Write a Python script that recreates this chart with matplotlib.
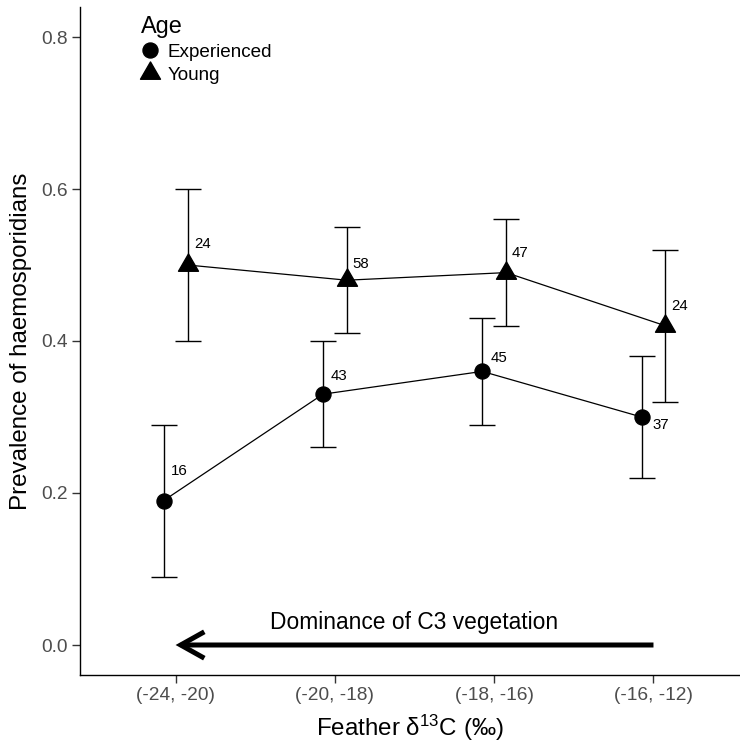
import numpy as np
import matplotlib
matplotlib.use('Agg')
import matplotlib.pyplot as plt
from matplotlib.path import Path
from matplotlib.patches import FancyArrowPatch, ArrowStyle

plt.rcParams['font.family'] = ['Liberation Sans', 'DejaVu Sans']
plt.rcParams['mathtext.fontset'] = 'custom'
plt.rcParams['mathtext.rm'] = 'Liberation Sans'
plt.rcParams['mathtext.it'] = 'Liberation Sans:italic'

# ---- data ----
categories = ['(-24, -20)', '(-20, -18)', '(-18, -16)', '(-16, -12)']
exp_prev = [0.19, 0.33, 0.36, 0.30]
exp_low = [0.09, 0.26, 0.29, 0.22]
exp_high = [0.29, 0.40, 0.43, 0.38]
exp_n = [16, 43, 45, 37]

young_prev = [0.50, 0.48, 0.49, 0.42]
young_low = [0.40, 0.41, 0.42, 0.32]
young_high = [0.60, 0.55, 0.56, 0.52]
young_n = [24, 58, 47, 24]

# label offsets (points) for the sample sizes
exp_off = [(11.5, 21), (11.5, 13), (12, 10), (14, -6)]
young_off = [(11, 15), (10, 12), (10, 14), (10, 14)]

dodge = 0.075
x = np.arange(1, len(categories) + 1)

# equilateral triangle marker (centroid at origin)
tri = Path([(-1, -0.577), (1, -0.577), (0, 1.155), (-1, -0.577)],
           [Path.MOVETO, Path.LINETO, Path.LINETO, Path.CLOSEPOLY])

W, H = 740, 744
fig = plt.figure(figsize=(W / 100, H / 100), dpi=100)
ax = fig.add_axes([80 / W, 1 - 675.4 / H, 660 / W, (675.4 - 6.6) / H])

def draw_group(xs, prev, low, high, marker, ms, label):
    prev = np.array(prev)
    yerr = [prev - np.array(low), np.array(high) - prev]
    ax.errorbar(xs, prev, yerr=yerr, fmt='none', ecolor='black',
                elinewidth=1.0, capsize=9.5, capthick=1.0, zorder=2)
    ax.plot(xs, prev, color='black', lw=0.9, zorder=2)
    ax.plot(xs, prev, ls='none', marker=marker, ms=ms, color='black',
            label=label, zorder=3)

draw_group(x - dodge, exp_prev, exp_low, exp_high, 'o', 10.8, 'Experienced')
draw_group(x + dodge, young_prev, young_low, young_high, tri, 16.6, 'Young')

for xi, yi, n, off in zip(x - dodge, exp_prev, exp_n, exp_off):
    ax.annotate(str(n), (xi, yi), xytext=off, textcoords='offset points',
                ha='center', va='center', fontsize=10.8)
for xi, yi, n, off in zip(x + dodge, young_prev, young_n, young_off):
    ax.annotate(str(n), (xi, yi), xytext=off, textcoords='offset points',
                ha='center', va='center', fontsize=10.8)

# arrow + annotation
arr = FancyArrowPatch((4, 0), (1, 0),
                      arrowstyle=ArrowStyle('->', head_length=17, head_width=9.5),
                      mutation_scale=1, lw=3.6, color='black',
                      shrinkA=0, shrinkB=0, capstyle='butt', joinstyle='miter')
ax.add_patch(arr)
ax.text(2.5, 0.029, 'Dominance of C3 vegetation', ha='center', va='center',
        fontsize=16.4)

ax.set_xlim(0.4, 0.4 + 660 / 159.3)
ax.set_ylim(-0.04, 0.84)
ax.set_xticks(x)
ax.set_xticklabels(categories)
ax.set_yticks([0.0, 0.2, 0.4, 0.6, 0.8])
ax.set_yticklabels(['0.0', '0.2', '0.4', '0.6', '0.8'])
ax.tick_params(labelsize=13.8, labelcolor='#4D4D4D', color='#333333',
               length=5.5, width=1.0, pad=3)

for s in ['top', 'right']:
    ax.spines[s].set_visible(False)
for s in ['left', 'bottom']:
    ax.spines[s].set_linewidth(1.0)

ax.set_xlabel('Feather δ$^{13}$C (‰)', fontsize=17.4, labelpad=6)
ax.set_ylabel('Prevalence of haemosporidians', fontsize=17.4, labelpad=7)

leg = ax.legend(loc='upper left', bbox_to_anchor=(135 / W, 1 - 9 / H),
                bbox_transform=fig.transFigure, frameon=False, title='Age',
                fontsize=13.6, title_fontsize=16.9, borderpad=0.32,
                handlelength=1.0, handletextpad=0.4, labelspacing=0.3,
                borderaxespad=0, alignment='left')

fig.savefig('out.png', dpi=100)
